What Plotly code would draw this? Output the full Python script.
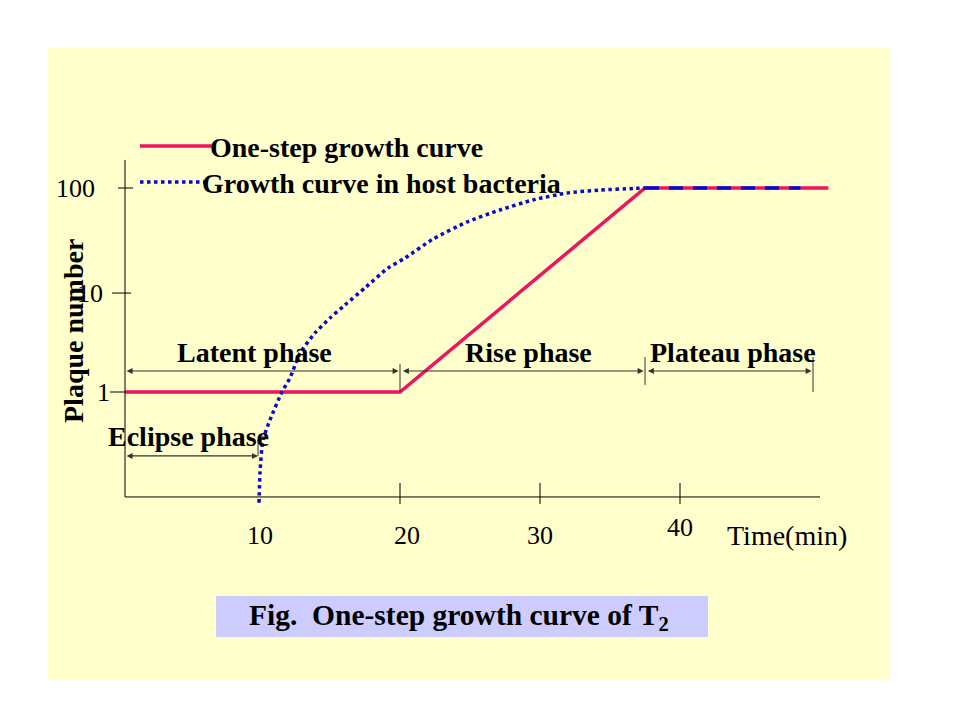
import plotly.graph_objects as go

# one-step growth curve (plaque number on a log scale vs time in min)
step_time = [0.36, 20, 37.5, 50.6]
step_plaque = [1, 1, 100, 100]

host_time = [9.93, 10.0, 10.21, 10.71, 11.57, 12.14, 12.86, 13.93, 15.0, 16.07, 17.5,
             19.14, 20.36, 22.36, 24.79, 27.14, 29.5, 31.93, 34.29, 36.64, 37.5]
host_plaque = [0.082, 0.161, 0.338, 0.531, 1.0, 1.37, 2.41, 3.79, 5.31, 7.13, 10.5,
               16.4, 20.6, 31.6, 46.4, 60.9, 76.3, 89.3, 95.5, 98.9, 100]

plateau_time = [37.5, 48.6]
plateau_plaque = [100, 100]

x_ticks = [10, 20, 30, 40]
y_ticks = [1, 10, 100]
y_tick_labels = ["1", "10", "100"]

# phase name, start, end, label centre (min)
phases = [("Latent phase", 0.36, 19.9, 9.64),
          ("Rise phase", 20.1, 37.4, 29.2),
          ("Plateau phase", 37.6, 49.4, 43.8)]
eclipse = ("Eclipse phase", 0.36, 9.86, 4.86)

RED = "#EE1460"
BLUE = "#0A0ACC"
GREY = "#333333"
SERIF = "Liberation Serif, Times New Roman, serif"

# plot area in pixels
L, R, T, B = 100, 840, 150, 510


def px(p):
    return (p - L) / (R - L)


def py(p):
    return (B - p) / (B - T)


def lg(v):
    # shapes take plain values on the log axis
    return 10 ** v


fig = go.Figure()

fig.add_trace(go.Scatter(x=step_time, y=step_plaque, mode="lines",
                         line=dict(color=RED, width=3.5), hoverinfo="skip"))
fig.add_trace(go.Scatter(x=host_time, y=host_plaque, mode="lines",
                         line=dict(color=BLUE, width=3.5, dash="3.5px,3.5px", shape="spline", smoothing=0.6),
                         hoverinfo="skip"))
fig.add_trace(go.Scatter(x=plateau_time, y=plateau_plaque, mode="lines",
                         line=dict(color=BLUE, width=3.5, dash="14px,10px"), hoverinfo="skip"))

shapes = []
# yellow slide background
shapes.append(dict(type="rect", xref="paper", yref="paper", x0=px(48), x1=px(890), y0=py(680), y1=py(48),
                   fillcolor="#FFFFCC", line=dict(width=0), layer="below"))
# axes
shapes.append(dict(type="line", xref="x", yref="y", x0=0.357, x1=0.357, y0=lg(-1.029), y1=lg(2.275),
                   line=dict(color="black", width=1)))
shapes.append(dict(type="line", xref="x", yref="y", x0=0.357, x1=50, y0=lg(-1.029), y1=lg(-1.029),
                   line=dict(color="black", width=1)))
# y ticks
for v, a, b in zip(y_ticks, [-0.71, -0.57, -0.143], [0.357, 0.79, 0.93]):
    yv = lg(0.97) if v == 10 else v
    shapes.append(dict(type="line", xref="x", yref="y", x0=a, x1=b, y0=yv, y1=yv,
                       line=dict(color="black", width=1)))
# x ticks
for t in x_ticks[1:]:
    shapes.append(dict(type="line", xref="x", yref="y", x0=t, x1=t, y0=lg(-0.892), y1=lg(-1.098),
                       line=dict(color="black", width=1)))
# phase separators
for t, a, b in [(20, 0.275, 0.0), (37.5, 0.343, 0.069), (49.5, 0.343, 0.0), (9.86, -0.47, -0.627)]:
    shapes.append(dict(type="line", xref="x", yref="y", x0=t, x1=t, y0=lg(a), y1=lg(b),
                       line=dict(color=GREY, width=1)))
# legend samples
shapes.append(dict(type="line", xref="paper", yref="paper", x0=px(140), x1=px(215), y0=py(146), y1=py(146),
                   line=dict(color=RED, width=3.5)))
shapes.append(dict(type="line", xref="paper", yref="paper", x0=px(140), x1=px(210), y0=py(182), y1=py(182),
                   line=dict(color=BLUE, width=3.5, dash="3.5px,3.5px")))
# caption box
shapes.append(dict(type="rect", xref="paper", yref="paper", x0=px(216), x1=px(708), y0=py(637), y1=py(596),
                   fillcolor="#CCCCFF", line=dict(width=0)))

bold = dict(family=SERIF, size=28, color="black")
regular = dict(family=SERIF, size=26, color="black")


def label(text, x, y, xref="paper", yref="paper", font=bold, xanchor="center", **kw):
    return dict(x=x, y=y, xref=xref, yref=yref, text=text, showarrow=False, font=font,
                xanchor=xanchor, yanchor="middle", **kw)


def span(a, b, ylog):
    return dict(x=b, y=ylog, ax=a, ay=ylog, xref="x", yref="y", axref="x", ayref="y",
                text="", showarrow=True, arrowside="end+start", arrowhead=2, arrowsize=1,
                arrowwidth=1.2, arrowcolor=GREY, standoff=0, startstandoff=0)


ann = []
# phase arrows and labels (annotation y is log10 on the log axis)
for name, a, b, mid in phases:
    ann.append(span(a, b, 0.206))
    ann.append(label("<b>%s</b>" % name, mid, 0.392, xref="x", yref="y"))
name, a, b, mid = eclipse
ann.append(span(a, b, -0.627))
ann.append(label("<b>%s</b>" % name, mid, -0.441, xref="x", yref="y"))

# tick labels
for lab, ylog, right in zip(y_tick_labels, [0, 0.97, 2], [112, 105, 97]):
    ann.append(label(lab, px(right), ylog, yref="y", font=regular, xanchor="right"))
for t in x_ticks:
    ann.append(label(str(t), t, py(527 if t == 40 else 535), xref="x", font=regular,
                     xshift=7 if t == 20 else 0))
ann.append(label("Time(min)", px(787), py(535), font=dict(family=SERIF, size=28, color="black")))
ann.append(label("<b>Plaque number</b>", px(73), py(331), textangle=-90))

# legend text
ann.append(label("<b>One-step growth curve</b>", px(208), py(147), xanchor="left"))
ann.append(label("<b>Growth curve in host bacteria</b>", px(200), py(183), xanchor="left"))

# caption
ann.append(label("<b>Fig.\u00a0\u00a0One-step growth curve of T<sub>2</sub></b>", px(459), py(617),
                 font=dict(family=SERIF, size=29.5, color="black")))

fig.update_layout(
    width=960, height=720,
    margin=dict(l=L, r=960 - R, t=T, b=720 - B),
    paper_bgcolor="white", plot_bgcolor="rgba(0,0,0,0)",
    showlegend=False,
    xaxis=dict(range=[(L - 120) / 14, (R - 120) / 14], visible=False, fixedrange=True),
    yaxis=dict(type="log", range=[(392 - B) / 102, (392 - T) / 102], visible=False, fixedrange=True),
    shapes=shapes, annotations=ann,
)

fig.write_html("out.html", config={"displayModeBar": False},
               post_script="document.body.style.margin='0';")
